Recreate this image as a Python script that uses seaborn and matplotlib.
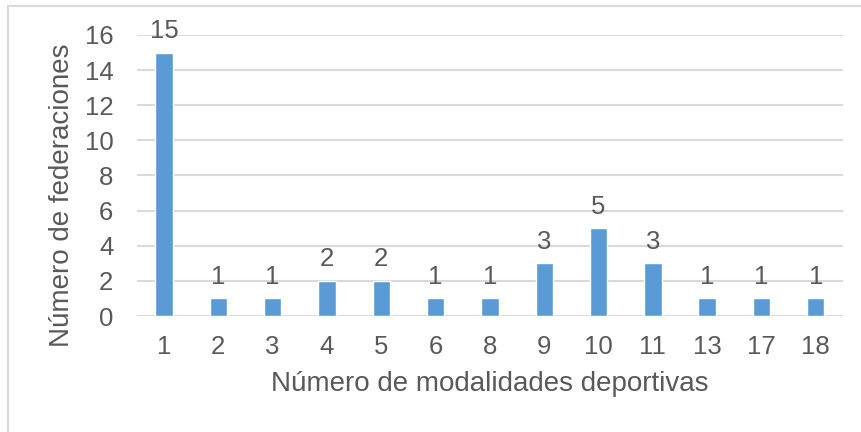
import matplotlib
matplotlib.use("Agg")
import matplotlib.pyplot as plt
from matplotlib.lines import Line2D
import seaborn as sns
import pandas as pd

modalidades = ["1", "2", "3", "4", "5", "6", "8", "9", "10", "11", "13", "17", "18"]
federaciones = [15, 1, 1, 2, 2, 1, 1, 3, 5, 3, 1, 1, 1]
y_ticks = [0, 2, 4, 6, 8, 10, 12, 14, 16]

sns.set_theme(style="white")
plt.rcParams["font.family"] = ["Liberation Sans", "DejaVu Sans"]

text_color = "#595959"
bar_color = "#5B9BD5"
grid_color = "#D9D9D9"
fs_tick = 18.5
fs_label = 20

df = pd.DataFrame({"modalidades": modalidades, "federaciones": federaciones})

fig = plt.figure(figsize=(8.61, 4.32), dpi=100)
ax = fig.add_axes([0.159, 0.2685, 0.82, 0.6505])

sns.barplot(data=df, x="modalidades", y="federaciones", order=modalidades,
            color=bar_color, saturation=1, width=0.32, ax=ax, zorder=3)

ax.set_ylim(0, 16)
ax.set_yticks(y_ticks)
ax.set_xlim(-0.5, len(modalidades) - 0.5)
ax.yaxis.grid(True, color=grid_color, linewidth=1.5, zorder=0)
ax.xaxis.grid(False)
for s in ax.spines.values():
    s.set_visible(False)
ax.tick_params(axis="both", length=0, labelsize=fs_tick, labelcolor=text_color)
ax.tick_params(axis="x", pad=14)
ax.tick_params(axis="y", pad=17)

for i, v in enumerate(federaciones):
    ax.text(i, v + 0.55, str(v), ha="center", va="bottom",
            fontsize=fs_tick, color=text_color)

ax.set_xlabel("Número de modalidades deportivas", fontsize=fs_label,
              color=text_color, labelpad=8)
ax.set_ylabel("Número de federaciones", fontsize=fs_label, color=text_color)
ax.yaxis.set_label_coords(-0.088, 0.43)

# chart frame
fig.add_artist(Line2D([8 / 861, 1], [1 - 6 / 432, 1 - 6 / 432],
                      transform=fig.transFigure, color="#D9D9D9", linewidth=1.5))
fig.add_artist(Line2D([8 / 861, 8 / 861], [0, 1 - 6 / 432],
                      transform=fig.transFigure, color="#D9D9D9", linewidth=1.5))

fig.savefig("out.png", dpi=100)
